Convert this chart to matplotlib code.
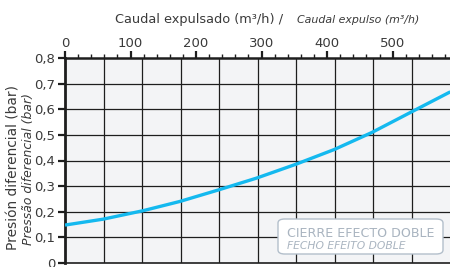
import numpy as np
import matplotlib
matplotlib.use('Agg')
import matplotlib.pyplot as plt
from matplotlib.patches import FancyBboxPatch
from matplotlib.ticker import MultipleLocator

plt.rcParams['font.family'] = ['DejaVu Sans']

# values
caudal = [0, 58, 119, 175, 234, 292, 352, 411, 468, 529, 588]
presion = [0.148, 0.171, 0.204, 0.240, 0.285, 0.331, 0.385, 0.443, 0.509, 0.590, 0.668]

x_ticks = [0, 100, 200, 300, 400, 500]
y_ticks = [0, 0.1, 0.2, 0.3, 0.4, 0.5, 0.6, 0.7, 0.8]
y_labels = ['0', '0,1', '0,2', '0,3', '0,4', '0,5', '0,6', '0,7', '0,8']

W, H = 450, 267
txt = '#3a3a3a'
box_col = '#b3bfcb'
leg_col = '#a9b4c0'


def px(x, y):
    return x / W, 1 - y / H


fig = plt.figure(figsize=(4.5, 2.67), dpi=100)
ax = fig.add_axes([65 / W, 1 - 263 / H, (W - 65) / W, (263 - 58) / H])
ax.set_facecolor('#f3f4f6')

ax.set_xlim(0, 587.5)
ax.set_ylim(0, 0.8)

# grid: horizontal at y ticks, vertical at 10 equal columns
for y in y_ticks[1:-1]:
    ax.axhline(y, color='#1e1e1e', lw=0.9, zorder=1)
for x in np.linspace(0, 587.5, 11)[1:-1]:
    ax.axvline(x, color='#1e1e1e', lw=0.9, zorder=1)

ax.plot(caudal, presion, color='#14b9ef', lw=2.4, solid_capstyle='butt',
        solid_joinstyle='round', zorder=3)

ax.xaxis.tick_top()
ax.set_xticks(x_ticks)
ax.xaxis.set_minor_locator(MultipleLocator(20))
ax.tick_params(axis='x', which='major', length=5, width=1.6, labelsize=9.5,
               colors='#1e1e1e', labelcolor=txt, pad=1)
ax.tick_params(axis='x', which='minor', length=3, width=1.0, colors='#1e1e1e')
ax.set_yticks(y_ticks)
ax.set_yticklabels(y_labels)
ax.tick_params(axis='y', length=5, width=1.6, labelsize=9.5,
               colors='#1e1e1e', labelcolor=txt, pad=2)

for s in ['top', 'left', 'bottom']:
    ax.spines[s].set_color('#1e1e1e')
ax.spines['top'].set_linewidth(1.8)
ax.spines['left'].set_linewidth(2.0)
ax.spines['bottom'].set_linewidth(1.2)
ax.spines['right'].set_visible(False)

texts = []
# title above the top axis
texts.append((fig.text(*px(115, 23), 'Caudal expulsado (m³/h) /', fontsize=9,
                       color=txt, va='baseline'), 168))
texts.append((fig.text(*px(297, 23), 'Caudal expulso (m³/h)', fontsize=7.2,
                       style='italic', color=txt, va='baseline'), 122))

# y labels
texts.append((fig.text(*px(14, 167), 'Presión diferencial (bar)', fontsize=9,
                       color=txt, rotation=90, ha='center', va='center'), 165))
texts.append((fig.text(*px(29, 169), 'Pressão diferencial (bar)', fontsize=7,
                       color=txt, style='italic', rotation=90, ha='center',
                       va='center'), 152))

# legend box
bx0, by0 = px(278, 254)
bx1, by1 = px(443, 219)
box = FancyBboxPatch((bx0, by0), bx1 - bx0, by1 - by0,
                     boxstyle='round,pad=0,rounding_size=0.015',
                     transform=fig.transFigure, facecolor='white',
                     edgecolor=box_col, lw=1.0, zorder=5)
fig.patches.append(box)
texts.append((fig.text(*px(287, 237), 'CIERRE EFECTO DOBLE', fontsize=9,
                       color=leg_col, va='baseline', zorder=6), 148))
texts.append((fig.text(*px(287, 249), 'FECHO EFEITO DOBLE', fontsize=7,
                       color=leg_col, style='italic', va='baseline', zorder=6), 119))

# scale each text so it spans the same width as in the reference
renderer = fig.canvas.get_renderer()
for t, target in texts:
    bb = t.get_window_extent(renderer)
    size = bb.height if t.get_rotation() == 90 else bb.width
    t.set_fontsize(t.get_fontsize() * target / size)

fig.savefig('out.png', dpi=100)
